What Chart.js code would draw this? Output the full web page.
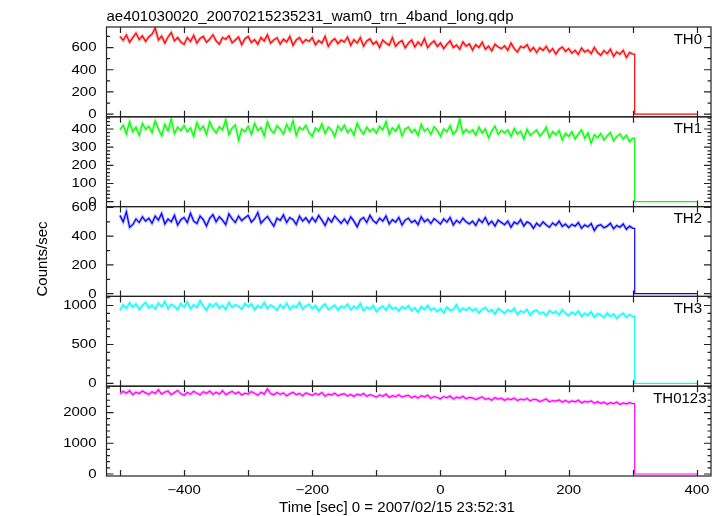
<!DOCTYPE html>
<html lang="en">
<head>
    <meta charset="UTF-8">
    <title>ae401030020 WAM0 light curve</title>
    <script src="https://cdn.jsdelivr.net/npm/chart.js@4.4.1/dist/chart.umd.min.js"></script>
    <style>
        * { margin: 0; padding: 0; }
        body { background: #ffffff; width: 723px; height: 516px; overflow: hidden; }
        .stack { position: relative; width: 723px; height: 516px; }
        .stack canvas { position: absolute; left: 0; top: 0; }
    </style>
</head>
<body>
    <div class="stack" id="stack"></div>

    <script>
        // Time grid: bins every 5 s from -500 s, detector switches off at ~303 s
        const tStart = -500;
        const tStep = 5;
        const dropTime = 303;
        const endTime = 400;

        const panelNames = ['TH0', 'TH1', 'TH2', 'TH3', 'TH0123'];
        const panelColors = ['#ff0000', '#00ff00', '#0000ff', '#00ffff', '#ff00ff'];
        const haloColors = ['rgba(255,0,0,0.3)', 'rgba(0,255,0,0.3)', 'rgba(0,0,255,0.3)', 'rgba(0,255,255,0.35)', 'rgba(255,0,255,0.3)'];

        // y ranges / ticks per panel
        const yMins = [-24, -27, -19, -35, -65];
        const yMaxs = [785, 467, 606, 1117, 2857];
        const yMajor = [200, 100, 200, 500, 1000];
        const yMinor = [100, 20, 100, 100, 200];
        const yLabels = [
            [0, 200, 400, 600],
            [0, 100, 200, 300, 400],
            [0, 200, 400, 600],
            [0, 500, 1000],
            [0, 1000, 2000]
        ];

        const xTickMarks = [-500, -400, -300, -200, -100, 0, 100, 200, 300, 400];
        const xTickLabels = [-400, -200, 0, 200, 400];

        // counts/sec, -500 .. 300 s
        const th0 = [
            700, 665, 712, 648, 690, 730, 672, 705, 655, 695,
            720, 775, 668, 702, 640, 695, 735, 660, 690, 650,
            628, 690, 655, 710, 640, 682, 700, 648, 675, 715,
            660, 630, 690, 675, 705, 642, 668, 695, 625, 680,
            700, 645, 672, 630, 690, 660, 715, 640, 668, 688,
            632, 675, 650, 700, 620, 668, 690, 640, 672, 655,
            690, 625, 662, 640, 700, 610, 655, 680, 635, 668,
            650, 695, 620, 670, 640, 690, 612, 660, 678, 630,
            655, 600, 668, 640, 620, 690, 610, 645, 662, 598,
            640, 668, 605, 650, 618, 680, 598, 635, 660, 610,
            640, 590, 628, 660, 600, 622, 585, 650, 612, 632,
            578, 625, 600, 648, 585, 612, 570, 630, 605, 590,
            615, 575, 640, 590, 560, 610, 598, 625, 570, 600,
            555, 598, 575, 610, 560, 590, 540, 585, 605, 565,
            590, 550, 575, 538, 595, 560, 578, 545, 600, 555,
            530, 572, 545, 585, 520, 560, 540, 575, 510, 555,
            540
        ];
        const th1 = [
            395, 420, 372, 440, 385, 410, 365, 430, 398, 415,
            380, 445, 400, 362, 425, 390, 455, 375, 410, 392,
            420, 385, 405, 360, 435, 395, 415, 370, 440, 400,
            378, 412, 395, 450, 368, 405, 422, 338, 400, 385,
            415, 370, 430, 392, 408, 362, 440, 395, 378, 418,
            400, 372, 425, 390, 445, 365, 410, 395, 420, 380,
            360, 405, 388, 428, 375, 410, 395, 358, 415, 392,
            420, 380, 400, 365, 432, 395, 372, 410, 385, 402,
            378, 415, 395, 440, 370, 405, 388, 420, 362, 400,
            410, 380, 398, 365, 425, 388, 402, 370, 412, 392,
            360, 400, 385, 418, 370, 392, 455, 375, 398, 380,
            395, 365, 410, 378, 400, 352, 388, 415, 370, 392,
            378, 395, 358, 402, 372, 388, 345, 398, 365, 380,
            395, 360, 380, 410, 352, 385, 368, 392, 340, 375,
            360, 385, 345, 372, 395, 350, 378, 322, 368, 352,
            375, 340, 362, 380, 335, 358, 372, 345, 365, 330,
            350
        ];
        const th2 = [
            545, 500, 570, 462, 480, 520, 495, 535, 505, 525,
            490, 540, 512, 558, 485, 520, 500, 545, 478, 515,
            530, 495, 560, 505, 488, 540, 515, 470, 525, 550,
            500, 535, 512, 480, 555, 520, 495, 540, 508, 528,
            545, 498, 522, 565, 490, 515, 538, 502, 470, 525,
            510, 548, 495, 530, 515, 482, 540, 505, 528, 495,
            530, 500, 545, 512, 475, 525, 498, 540, 515, 490,
            520, 488, 535, 505, 465, 515, 530, 495, 545, 508,
            490, 525, 505, 540, 485, 515, 498, 530, 478, 512,
            525, 495, 510, 480, 535, 500, 518, 488, 522, 505,
            485, 520, 498, 530, 478, 510, 492, 525, 500, 485,
            505, 475, 518, 495, 530, 482, 505, 470, 512, 495,
            480, 505, 462, 498, 485, 515, 470, 500, 488, 455,
            490, 470, 500, 478, 462, 492, 475, 505, 468, 485,
            460, 482, 470, 495, 455, 478, 465, 488, 440, 472,
            480, 458, 470, 490, 452, 475, 462, 485, 448, 470,
            455
        ];
        const th3 = [
            940, 1010, 965, 1035, 980, 1020, 950, 1000, 1040, 970,
            1005, 955, 1030, 985, 1050, 960, 1015, 990, 945, 1025,
            980, 1045, 960, 1010, 975, 1060, 990, 940, 1020, 985,
            1030, 965, 1000, 950, 1040, 975, 1010, 990, 955, 1025,
            985, 1020, 945, 1000, 970, 1035, 960, 1005, 980, 940,
            1010, 965, 1030, 950, 995, 975, 1040, 955, 990, 1015,
            960, 1000, 930, 985, 1020, 950, 975, 1005, 940, 990,
            970, 1015, 945, 990, 960, 1025, 935, 980, 955, 1000,
            920, 965, 990, 940, 1010, 955, 975, 930, 985, 960,
            995, 935, 970, 915, 985, 950, 1000, 940, 965, 925,
            960, 905, 980, 935, 950, 1010, 920, 965, 940, 975,
            930, 960, 905, 950, 975, 920, 945, 890, 960, 935,
            900, 945, 920, 965, 885, 930, 910, 950, 875, 925,
            940, 895, 915, 870, 935, 905, 925, 880, 945, 900,
            870, 915, 885, 930, 860, 900, 875, 920, 850, 895,
            880, 845, 905, 860, 890, 835, 875, 900, 850, 885,
            860
        ];
        const th0123 = [
            2600, 2690, 2625, 2710, 2580, 2660, 2620, 2700, 2640, 2590,
            2680, 2620, 2740, 2600, 2665, 2700, 2580, 2650, 2720, 2610,
            2560, 2650, 2600, 2690, 2630, 2575, 2680, 2620, 2700, 2595,
            2660, 2600, 2710, 2580, 2640, 2690, 2610, 2665, 2570, 2630,
            2600, 2680, 2625, 2560, 2660, 2600, 2770, 2620, 2580, 2650,
            2590, 2640, 2545, 2610, 2660, 2580, 2625, 2550, 2640, 2600,
            2560, 2620, 2580, 2650, 2530, 2600, 2570, 2630, 2545, 2590,
            2610, 2540, 2590, 2520, 2600, 2560, 2620, 2530, 2580, 2545,
            2500, 2570, 2530, 2600, 2490, 2550, 2515, 2580, 2500, 2540,
            2560, 2480, 2530, 2470, 2550, 2510, 2570, 2460, 2520, 2490,
            2450, 2520, 2480, 2540, 2440, 2500, 2470, 2530, 2450, 2490,
            2480, 2420, 2470, 2510, 2430, 2460, 2400, 2480, 2440, 2465,
            2400, 2450, 2420, 2470, 2390, 2440, 2410, 2460, 2380, 2430,
            2420, 2360, 2400, 2440, 2350, 2390, 2370, 2410, 2340, 2390,
            2330, 2380, 2350, 2400, 2320, 2360, 2340, 2380, 2300, 2350,
            2300, 2340, 2270, 2320, 2290, 2340, 2260, 2310, 2280, 2320,
            2290
        ];
        const seriesValues = [th0, th1, th2, th3, th0123];

        const FONT = '"Liberation Sans", Arial, Helvetica, sans-serif';
        const W = 723, H = 516;
        const plotLeft = 106.5, plotRight = 711;
        const plotTop = 27, plotBottom = 476;
        const panelH = (plotBottom - plotTop) / 5;

        // tick labels in the reference are a little squashed vertically
        function squashedText(ctx, text, x, y, align, baseline) {
            ctx.save();
            ctx.translate(x, y);
            ctx.scale(1, 0.82);
            ctx.textAlign = align;
            ctx.textBaseline = baseline;
            ctx.fillText(text, 0, 0);
            ctx.restore();
        }

        const decor = {
            id: 'decor',
            afterDraw(chart, args, opts) {
                const ctx = chart.ctx;
                const area = chart.chartArea;
                const xs = chart.scales.x;
                const ys = chart.scales.y;
                const i = opts.index;

                ctx.save();
                ctx.strokeStyle = '#222';
                ctx.lineWidth = 1.2;

                // x tick marks, inward on top and bottom
                ctx.beginPath();
                xTickMarks.forEach(t => {
                    const px = Math.round(xs.getPixelForValue(t)) + 0.5;
                    ctx.moveTo(px, area.bottom);
                    ctx.lineTo(px, area.bottom - 6);
                    ctx.moveTo(px, area.top);
                    ctx.lineTo(px, area.top + 6);
                });
                ctx.stroke();

                // y ticks, major and minor, on both sides
                ctx.beginPath();
                for (let v = 0; v <= yMaxs[i]; v += yMinor[i]) {
                    const py = ys.getPixelForValue(v);
                    const len = (v % yMajor[i] === 0) ? 7 : 3.5;
                    ctx.moveTo(area.left, py);
                    ctx.lineTo(area.left + len, py);
                    ctx.moveTo(area.right, py);
                    ctx.lineTo(area.right - len, py);
                }
                ctx.stroke();

                // frame
                ctx.strokeRect(area.left, area.top, area.right - area.left, area.bottom - area.top);

                // y tick labels
                ctx.fillStyle = '#000';
                ctx.font = '15px ' + FONT;
                yLabels[i].forEach(v => {
                    squashedText(ctx, String(v), area.left - 10, ys.getPixelForValue(v) + 0.5, 'right', 'middle');
                });

                // panel name
                ctx.font = '15px ' + FONT;
                ctx.textAlign = 'right';
                ctx.textBaseline = 'alphabetic';
                ctx.fillText(panelNames[i], area.right - opts.nameInset, area.top + 16.5);

                if (opts.title) {
                    ctx.textAlign = 'left';
                    ctx.fillText(opts.title, area.left, 20.5);
                }
                if (opts.yTitle) {
                    ctx.save();
                    ctx.translate(46.5, 259);
                    ctx.rotate(-Math.PI / 2);
                    ctx.textAlign = 'center';
                    ctx.fillText(opts.yTitle, 0, 0);
                    ctx.restore();
                }
                if (opts.xTitle) {
                    xTickLabels.forEach(t => {
                        const label = t < 0 ? '\u2212' + Math.abs(t) : String(t);
                        squashedText(ctx, label, xs.getPixelForValue(t), 494, 'center', 'alphabetic');
                    });
                    ctx.textAlign = 'center';
                    ctx.fillText(opts.xTitle, 397, 511.5);
                }
                ctx.restore();
            }
        };

        const stack = document.getElementById('stack');

        seriesValues.forEach((vals, i) => {
            const canvas = document.createElement('canvas');
            canvas.width = W;
            canvas.height = H;
            stack.appendChild(canvas);

            const binPts = vals.map((v, k) => ({ x: tStart + k * tStep, y: v }));
            const pts = binPts.concat([
                { x: dropTime, y: vals[vals.length - 1] },
                { x: dropTime, y: 0 },
                { x: endTime, y: 0 }
            ]);

            const top = plotTop + i * panelH;
            const bottom = top + panelH;

            new Chart(canvas, {
                type: 'line',
                data: {
                    datasets: [{
                        // the binned part again, wide and pale like the error-bar haze
                        data: binPts,
                        borderColor: haloColors[i],
                        borderWidth: 3,
                        pointRadius: 0,
                        tension: 0,
                        fill: false,
                        order: 2
                    }, {
                        data: pts,
                        borderColor: panelColors[i],
                        borderWidth: 1.2,
                        pointRadius: 0,
                        tension: 0,
                        fill: false,
                        order: 1
                    }]
                },
                options: {
                    responsive: false,
                    animation: false,
                    devicePixelRatio: 1,
                    layout: {
                        padding: { left: plotLeft, right: W - plotRight, top: top, bottom: H - bottom }
                    },
                    scales: {
                        x: { type: 'linear', min: -521, max: 422, display: false },
                        y: { type: 'linear', min: yMins[i], max: yMaxs[i], display: false }
                    },
                    plugins: {
                        legend: { display: false },
                        tooltip: { enabled: false },
                        decor: {
                            index: i,
                            nameInset: i === 4 ? 4.5 : 9,
                            title: i === 0 ? 'ae401030020_20070215235231_wam0_trn_4band_long.qdp' : null,
                            yTitle: i === 2 ? 'Counts/sec' : null,
                            xTitle: i === 4 ? 'Time [sec] 0 = 2007/02/15 23:52:31' : null
                        }
                    }
                },
                plugins: [decor]
            });
        });
    </script>
</body>
</html>
